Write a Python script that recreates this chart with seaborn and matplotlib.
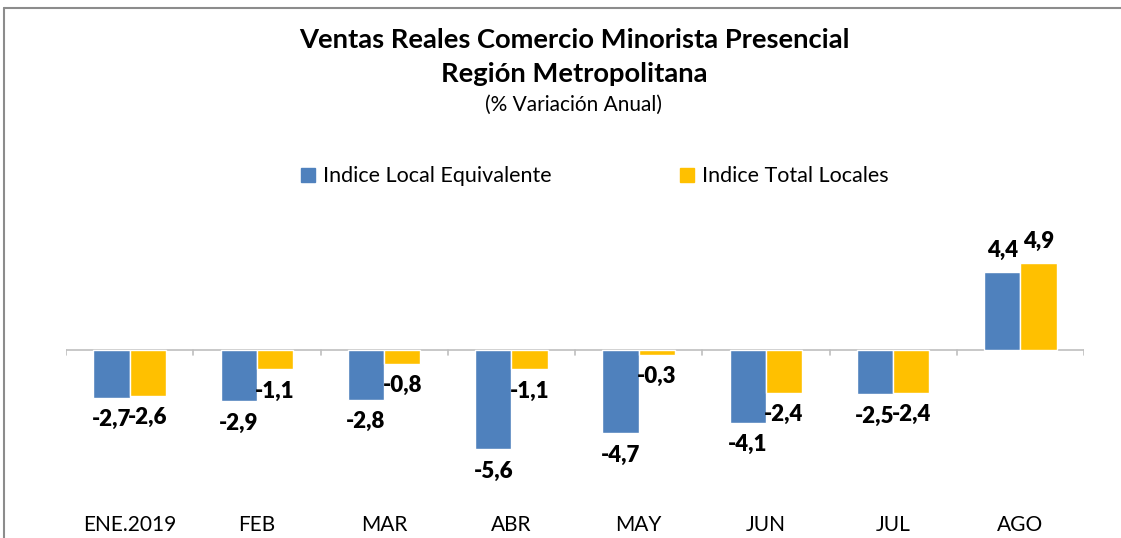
import matplotlib
matplotlib.use("Agg")
import matplotlib.pyplot as plt
from matplotlib.lines import Line2D
import seaborn as sns
import pandas as pd

meses = ["ENE.2019", "FEB", "MAR", "ABR", "MAY", "JUN", "JUL", "AGO"]
local_equivalente = [-2.7, -2.9, -2.8, -5.6, -4.7, -4.1, -2.5, 4.4]
total_locales = [-2.6, -1.1, -0.8, -1.1, -0.3, -2.4, -2.4, 4.9]
series = ["Indice Local Equivalente", "Indice Total Locales"]
colores = ["#4F81BD", "#FFC000"]

df = pd.DataFrame({
    "mes": meses * 2,
    "valor": local_equivalente + total_locales,
    "serie": [series[0]] * len(meses) + [series[1]] * len(meses),
})

sns.set_theme(style="white")
plt.rcParams["font.family"] = ["Lato", "DejaVu Sans"]
plt.rcParams["text.color"] = "black"
plt.rcParams["xtick.color"] = "black"

fig = plt.figure(figsize=(11.21, 5.38), dpi=100)
ax = fig.add_axes([66 / 1121, 33 / 538, (1084 - 66) / 1121, 265 / 538])

sns.barplot(data=df, x="mes", y="valor", hue="serie", palette=colores,
            width=0.57, saturation=1, gap=0, ax=ax, legend=False)

for cont in ax.containers:
    labels = [f"{v:.1f}".replace(".", ",") for v in cont.datavalues]
    ax.bar_label(cont, labels=labels, padding=8, fontsize=16, fontweight="heavy",
                 color="black")

ax.set_xlim(-0.5, len(meses) - 0.5)
ax.set_ylim(-8.73, 6.19)
for s in ax.spines.values():
    s.set_visible(False)
ax.set_yticks([])
ax.set_xlabel("")
ax.set_ylabel("")
ax.tick_params(axis="x", length=0, labelsize=15, pad=7, labelcolor="black")

# eje horizontal en cero con marcas entre categorias
ax.axhline(0, color="#BFBFBF", lw=1.2, zorder=0)
for b in range(len(meses) + 1):
    ax.plot([b - 0.5, b - 0.5], [0, -0.3], color="#BFBFBF", lw=1.2, zorder=0)

fig.text(0.512, 0.925, "Ventas Reales Comercio Minorista Presencial",
         ha="center", va="center", fontsize=19.7, fontweight="bold")
fig.text(0.512, 0.863, "Región Metropolitana",
         ha="center", va="center", fontsize=19.7, fontweight="bold")
fig.text(0.512, 0.805, "(% Variación Anual)",
         ha="center", va="center", fontsize=15)

handles = [Line2D([], [], marker="s", ls="", markersize=10, color=c) for c in colores]
fig.legend(handles, series, loc="center", bbox_to_anchor=(0.530, 0.672), ncol=2,
           frameon=False, fontsize=15.5, handlelength=0.8, handletextpad=0.3,
           columnspacing=5.9)

# marco del grafico
fig.add_artist(Line2D([4 / 1121, 1], [1 - 8 / 538, 1 - 8 / 538],
                      transform=fig.transFigure, color="#8C8C8C", lw=1.5))
fig.add_artist(Line2D([4 / 1121, 4 / 1121], [0, 1 - 8 / 538],
                      transform=fig.transFigure, color="#8C8C8C", lw=1.5))

fig.savefig("out.png", dpi=100)
